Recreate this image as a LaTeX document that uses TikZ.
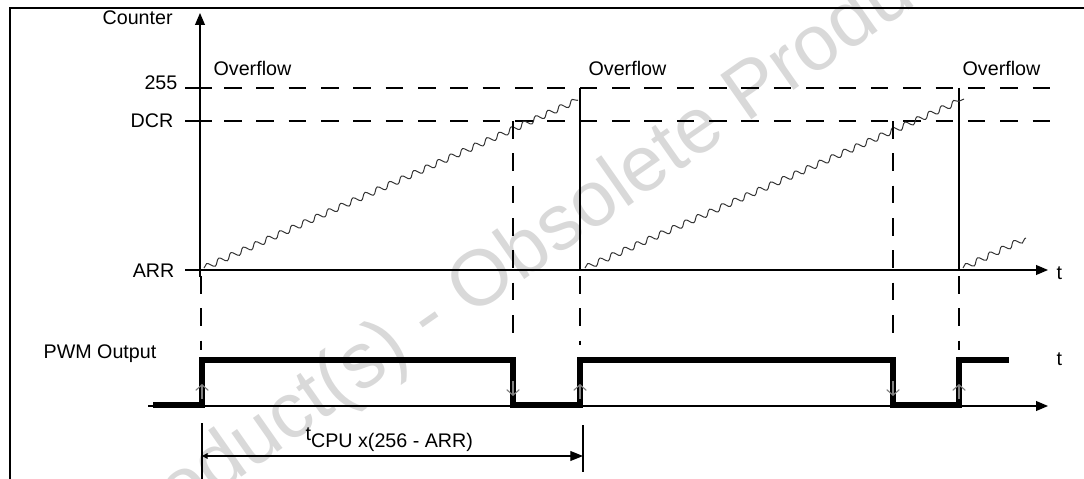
\documentclass[tikz,border=0pt]{standalone}
\usepackage{fontspec}
\setmainfont{Liberation Sans}
\usetikzlibrary{arrows.meta,decorations.pathmorphing}
\tikzset{
  lbl/.style={inner sep=0pt,font=\fontsize{14}{16}\selectfont},
  dashline/.style={line width=0.9pt,dash pattern=on 12.5pt off 10.5pt},
  saw/.style={line width=0.7pt,black!80,decorate,
    decoration={snake,segment length=9.5pt,amplitude=2.1pt}},
  pwm/.style={line width=3.6pt,line join=miter},
  edgetip/.style={line width=0.8pt,black!50,-{Straight Barb[length=4pt,width=9pt]}}
}

\begin{document}
\begin{tikzpicture}[x=0.025cm,y=-0.025cm,line width=0.9pt,
  >={Triangle[length=8.5pt,width=7pt]}]
\useasboundingbox (0,0) rectangle (1084,479);
% 水印
\node[text=black!15,font=\fontsize{56}{56}\selectfont,rotate=35,
  anchor=base west,inner sep=0pt] (wm) at (115,566)
  {Product(s) - Obsolete Product(s)};
% 外框
\draw[line width=1.6pt] (10,479) -- (10,8) -- (1084,8);
% 计数器坐标轴
\coordinate (ytop) at (200,13);
\coordinate (ybot) at (200,277);
\draw[->] (ybot) -- (ytop);
\node[lbl,anchor=base west] (cnt) at (102,25) {Counter};
\coordinate (tleft) at (185,270);
\coordinate (tright) at (1048,270);
\draw[->] (tleft) -- (tright);
\node[lbl,anchor=base west] (t1) at (1056,279) {t};
% 刻度与水平虚线
\node[lbl,anchor=base east] (v255) at (178,90) {255};
\node[lbl,anchor=base east] (vdcr) at (174,128) {DCR};
\node[lbl,anchor=base east] (varr) at (175,277) {ARR};
\foreach \y in {88,121}{
  \draw (185,\y) -- (212,\y);
  \draw[dashline] (224,\y) -- (1050,\y);
}
% 溢出标记
\foreach \x/\n in {213/ov1,588/ov2,962/ov3}
  \node[lbl,anchor=base west] (\n) at (\x,75) {Overflow};
\foreach \x in {580,959}
  \draw (\x,88) -- (\x,270);
% 计数锯齿
\draw[saw] (204,268) -- (578,100);
\draw[saw] (585,268) -- (964,99);
\draw[saw] (963,268) -- (1026,238);
% 竖直虚线
\foreach \x in {513,893}
  \draw[dashline] (\x,121) -- (\x,345);
\foreach \x/\e in {201/350,580/345,959/350}
  \draw[dashline] (\x,276) -- (\x,\e);
% PWM 输出
\node[lbl,anchor=base west] (pwmlbl) at (43,358) {PWM Output};
\node[lbl,anchor=base west] (t2) at (1056,365) {t};
\coordinate (pleft) at (148,406);
\coordinate (pright) at (1048,406);
\draw[->] (pleft) -- (pright);
\draw[pwm] (153,405) -- (202,405) -- (202,360) -- (513,360) -- (513,405)
  -- (580,405) -- (580,360) -- (893,360) -- (893,405) -- (959,405)
  -- (959,360) -- (1009,360);
\foreach \x in {202,580,959}
  \draw[edgetip] (\x,399) -- (\x,384);
\foreach \x in {513,893}
  \draw[edgetip] (\x,381) -- (\x,396);
% 周期标注
\coordinate (da) at (202,456);
\coordinate (db) at (583,456);
\draw (202,423) -- (202,479);
\draw (583,425) -- (583,472);
\draw[{Triangle[length=4pt,width=4pt]}-{Triangle[length=9pt,width=7pt]}] (da) -- (db);
\node[lbl,anchor=base west] (tcpu) at (305,440)
  {t\raisebox{-5pt}{CPU x(256 - ARR)}};
\end{tikzpicture}
\end{document}
